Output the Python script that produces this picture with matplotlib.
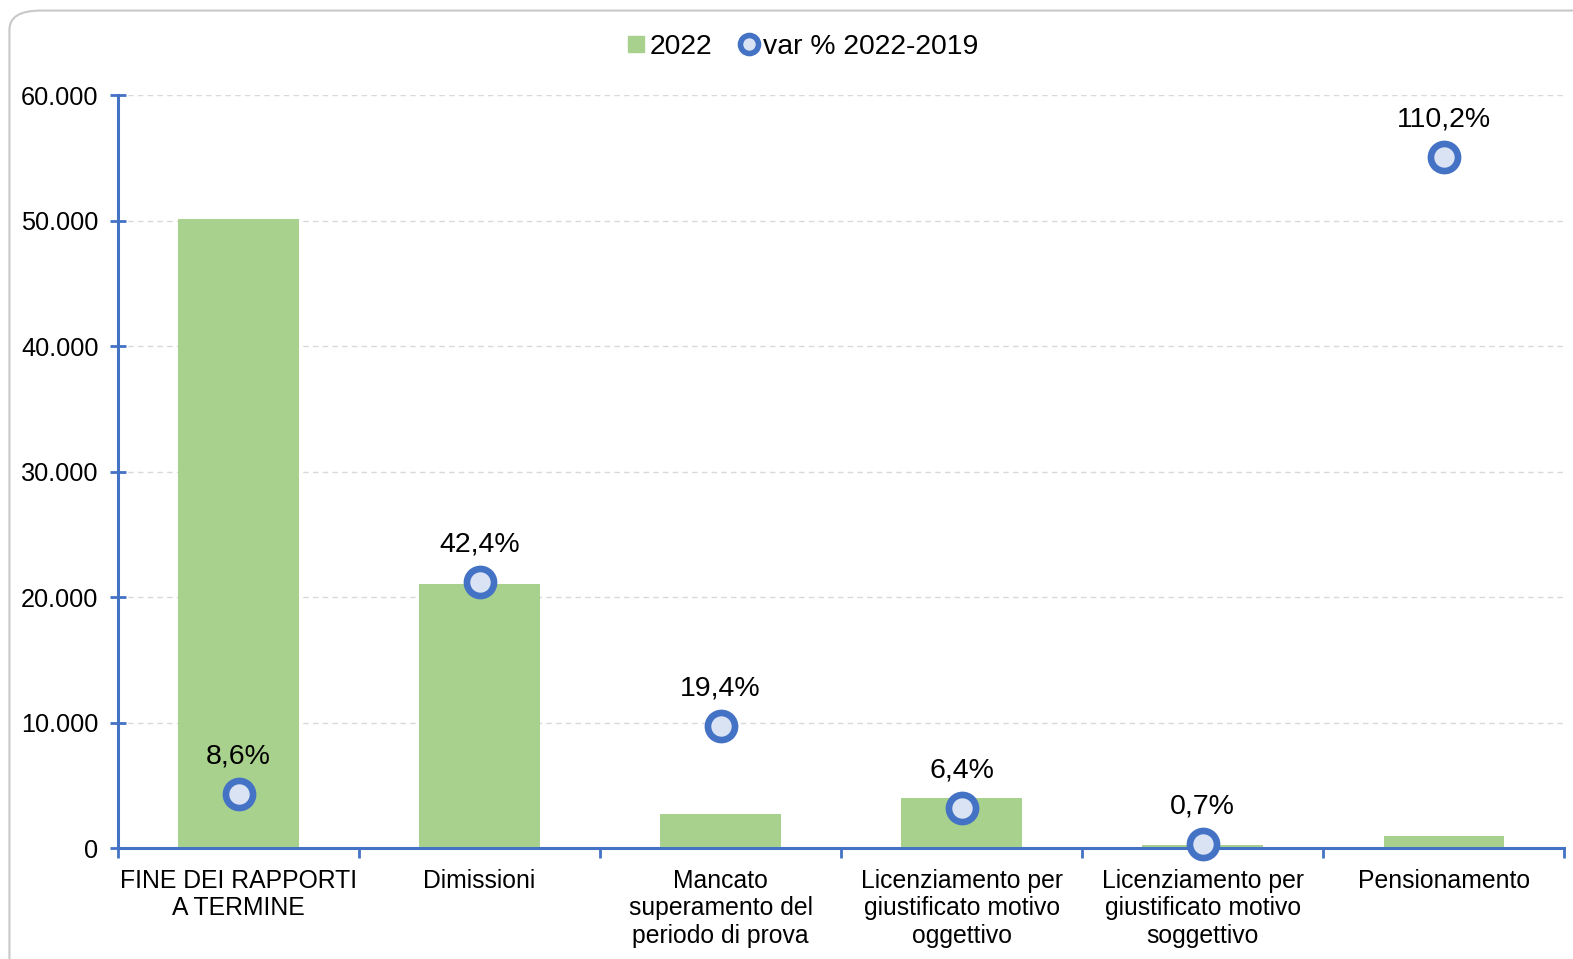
import matplotlib
matplotlib.use('Agg')
import matplotlib.pyplot as plt
from matplotlib.patches import FancyBboxPatch
from matplotlib.lines import Line2D
from matplotlib.ticker import FuncFormatter, FixedLocator
import numpy as np

plt.rcParams['font.family'] = ['Liberation Sans', 'DejaVu Sans']

# data
categories = ['FINE DEI RAPPORTI\nA TERMINE', 'Dimissioni',
              'Mancato\nsuperamento del\nperiodo di prova',
              'Licenziamento per\ngiustificato motivo\noggettivo',
              'Licenziamento per\ngiustificato motivo\nsoggettivo',
              'Pensionamento']
values_2022 = [50150, 21000, 2750, 3950, 250, 950]
var_pct = [8.6, 42.4, 19.4, 6.4, 0.7, 110.2]
pct_labels = ['8,6%', '42,4%', '19,4%', '6,4%', '0,7%', '110,2%']

bar_col = '#A9D18E'
axis_col = '#4472C4'
face_col = '#DAE3F3'

fig = plt.figure(figsize=(15.73, 9.59), dpi=100)

# rounded frame around the chart
frame = FancyBboxPatch((0.006, -0.05), 1.05, 1.039, transform=fig.transFigure,
                       boxstyle='round,pad=0,rounding_size=0.02',
                       fc='none', ec='#C8C8C8', lw=1.5, zorder=0)
fig.patches.append(frame)

ax = fig.add_axes([0.075, 0.1157, 0.9195, 0.7852])
x = np.arange(len(categories))
ax.bar(x, values_2022, width=0.5, color=bar_col, zorder=2)
ax.set_xlim(-0.5, len(categories) - 0.5)
ax.set_ylim(0, 60000)

ax.yaxis.set_major_locator(FixedLocator(np.arange(0, 60001, 10000)))
ax.yaxis.set_major_formatter(FuncFormatter(lambda v, p: f'{int(v):,}'.replace(',', '.')))
ax.grid(axis='y', color='#D9D9D9', ls=(0, (4, 3)), lw=1, zorder=0)

for s in ['top', 'right']:
    ax.spines[s].set_visible(False)
for s in ['left', 'bottom']:
    ax.spines[s].set_color(axis_col)
    ax.spines[s].set_linewidth(2.2)

ax.tick_params(axis='y', direction='inout', length=12, width=2, color=axis_col,
               labelsize=18.2, pad=8)
ax.set_xticks(x)
ax.set_xticklabels(categories, fontsize=17.8, linespacing=1.18)
ax.tick_params(axis='x', length=0, pad=15)
ax.set_xticks(np.arange(-0.5, len(categories), 1.0), minor=True)
ax.tick_params(axis='x', which='minor', direction='out', length=7, width=2, color=axis_col)

# secondary scale for the percentage points
ax2 = ax.twinx()
ax2.set_ylim(0, 120)
ax2.axis('off')
ax2.plot(x, var_pct, ls='none', marker='o', ms=19.5, mew=4.8,
         mfc=face_col, mec=axis_col, zorder=5, clip_on=False)
for xi, v, lab in zip(x, var_pct, pct_labels):
    ax2.annotate(lab, (xi, v), xytext=(0, 27), textcoords='offset points',
                 ha='center', va='center', fontsize=20.5)

handles = [Line2D([], [], ls='none', marker='s', ms=11, color=bar_col),
           Line2D([], [], ls='none', marker='o', ms=13, mew=4, mfc=face_col, mec=axis_col)]
fig.legend(handles, ['2022', 'var % 2022-2019'], loc='center', bbox_to_anchor=(0.5095, 0.951),
           ncol=2, frameon=False, fontsize=20.4, handletextpad=0.1, columnspacing=0.9,
           handlelength=0.8)

fig.savefig('out.png', dpi=100)
